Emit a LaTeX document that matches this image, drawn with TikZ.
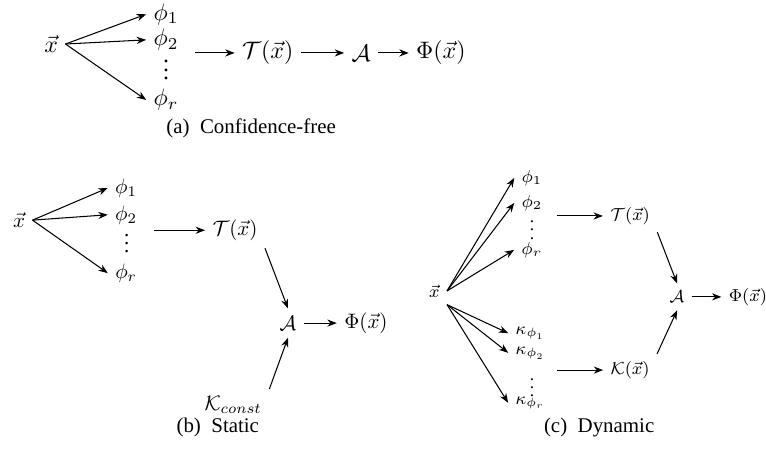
\RequirePackage{fix-cm}
\documentclass[tikz,border=0pt]{standalone}
\usepackage[no-math]{fontspec}
\setmainfont{Liberation Serif}
\usepackage{amsmath}
\usepackage{amssymb}
\usepackage{tikz}
\usetikzlibrary{
  arrows.meta, % 箭头样式
  positioning  % 节点相对定位
}

\tikzset{
  fonta/.style={font=\fontsize{11.4}{13.7}\selectfont},
  fontb/.style={font=\fontsize{10}{12}\selectfont},
  fontc/.style={font=\fontsize{8.3}{10}\selectfont},
  subcap/.style={font=\fontsize{10}{12}\selectfont},
  dotn/.style={inner sep=0pt, anchor=base}
}

\begin{document}
\begin{tikzpicture}[>={Stealth[length=4.5pt,width=3.4pt]}, line width=0.5pt]
  \useasboundingbox (0,0) rectangle (12.874,7.630);

  % =========== (a) 无置信度 ===========
  \begin{scope}[fonta]
    \node (xa) at (0.86,6.89) {$\vec{x}$};
    \node (phi1a) at (2.79,7.39) {$\phi_1$};
    \node (phi2a) at (2.79,6.96) {$\phi_2$};
    \node[dotn] (dotsa) at (2.79,6.29) {$\smash{\vdots}$};
    \node (phira) at (2.79,5.95) {$\phi_r$};
    \coordinate (ta) at (3.28,6.74);
    \node (Ta) at (4.50,6.74) {$\mathcal{T}(\vec{x})$};
    \node (Aa) at (6.07,6.74) {$\mathcal{A}$};
    \node (Pa) at (7.41,6.74) {$\Phi(\vec{x})$};
    % 箭头
    \draw[->] (xa.east) -- (phi1a.west);
    \draw[->] (xa.east) -- (phi2a.west);
    \draw[->] (xa.east) -- (phira.west);
    \draw[->] (ta) -- (Ta);
    \draw[->] (Ta) -- (Aa);
    \draw[->] (Aa) -- (Pa);
  \end{scope}
  \node[subcap] (capa) at (4.22,5.48) {(a)\enspace Confidence-free};

  % =========== (b) 静态 ===========
  \begin{scope}[fontb]
    \node (xb) at (0.32,3.93) {$\vec{x}$};
    \node (phi1b) at (2.12,4.47) {$\phi_1$};
    \node (phi2b) at (2.12,4.02) {$\phi_2$};
    \node[dotn] (dotsb) at (2.13,3.38) {$\smash{\vdots}$};
    \node (phirb) at (2.12,3.04) {$\phi_r$};
    \coordinate (tb) at (2.59,3.76);
    \node (Tb) at (3.95,3.76) {$\mathcal{T}(\vec{x})$};
    \node (Ab) at (4.84,2.20) {$\mathcal{A}$};
    \node (Pb) at (6.15,2.20) {$\Phi(\vec{x})$};
    \node (Kb) at (3.92,0.82) {$\mathcal{K}_{const}$};
    % 箭头
    \draw[->] (xb.east) -- (phi1b.west);
    \draw[->] (xb.east) -- (phi2b.west);
    \draw[->] (xb.east) -- (phirb.west);
    \draw[->] (tb) -- (Tb);
    \draw[->] (Tb.south east) -- (Ab.north);
    \draw[->] (Kb.north east) -- (Ab.south);
    \draw[->] (Ab) -- (Pb);
  \end{scope}
  \node[subcap] (capb) at (3.66,0.44) {(b)\enspace Static};

  % =========== (c) 动态 ===========
  \begin{scope}[fontc]
    \node (xc) at (7.30,2.74) {$\vec{x}$};
    \node (phi1c) at (8.94,4.64) {$\phi_1$};
    \node (phi2c) at (8.94,4.22) {$\phi_2$};
    \node[dotn] (dots1c) at (8.94,3.61) {$\smash{\vdots}$};
    \node (phirc) at (8.94,3.43) {$\phi_r$};
    \node (kap1c) at (8.91,2.03) {$\kappa_{\phi_1}$};
    \node (kap2c) at (8.91,1.70) {$\kappa_{\phi_2}$};
    \node[dotn] (dots2c) at (8.94,0.96) {$\smash{\vdots}$};
    \node (kaprc) at (8.91,0.86) {$\kappa_{\phi_r}$};
    \coordinate (tc) at (9.36,4.00);
    \coordinate (kc) at (9.36,1.41);
    \node (Tc) at (10.59,4.00) {$\mathcal{T}(\vec{x})$};
    \node (Kc) at (10.59,1.41) {$\mathcal{K}(\vec{x})$};
    \node (Ac) at (11.38,2.64) {$\mathcal{A}$};
    \node (Pc) at (12.57,2.64) {$\Phi(\vec{x})$};
    % 箭头
    \draw[->] (xc.east) -- (phi1c.west);
    \draw[->] (xc.east) -- (phi2c.west);
    \draw[->] (xc.east) -- (phirc.west);
    \draw[->] (xc.south east) -- (kap1c.west);
    \draw[->] (xc.south east) -- (kap2c.west);
    \draw[->] (xc.south east) -- (kaprc.west);
    \draw[->] (tc) -- (Tc);
    \draw[->] (kc) -- (Kc);
    \draw[->] (Tc.south east) -- (Ac.north);
    \draw[->] (Kc.north east) -- (Ac.south);
    \draw[->] (Ac) -- (Pc);
  \end{scope}
  \node[subcap] (capc) at (10.07,0.45) {(c)\enspace Dynamic};

\end{tikzpicture}
\end{document}
